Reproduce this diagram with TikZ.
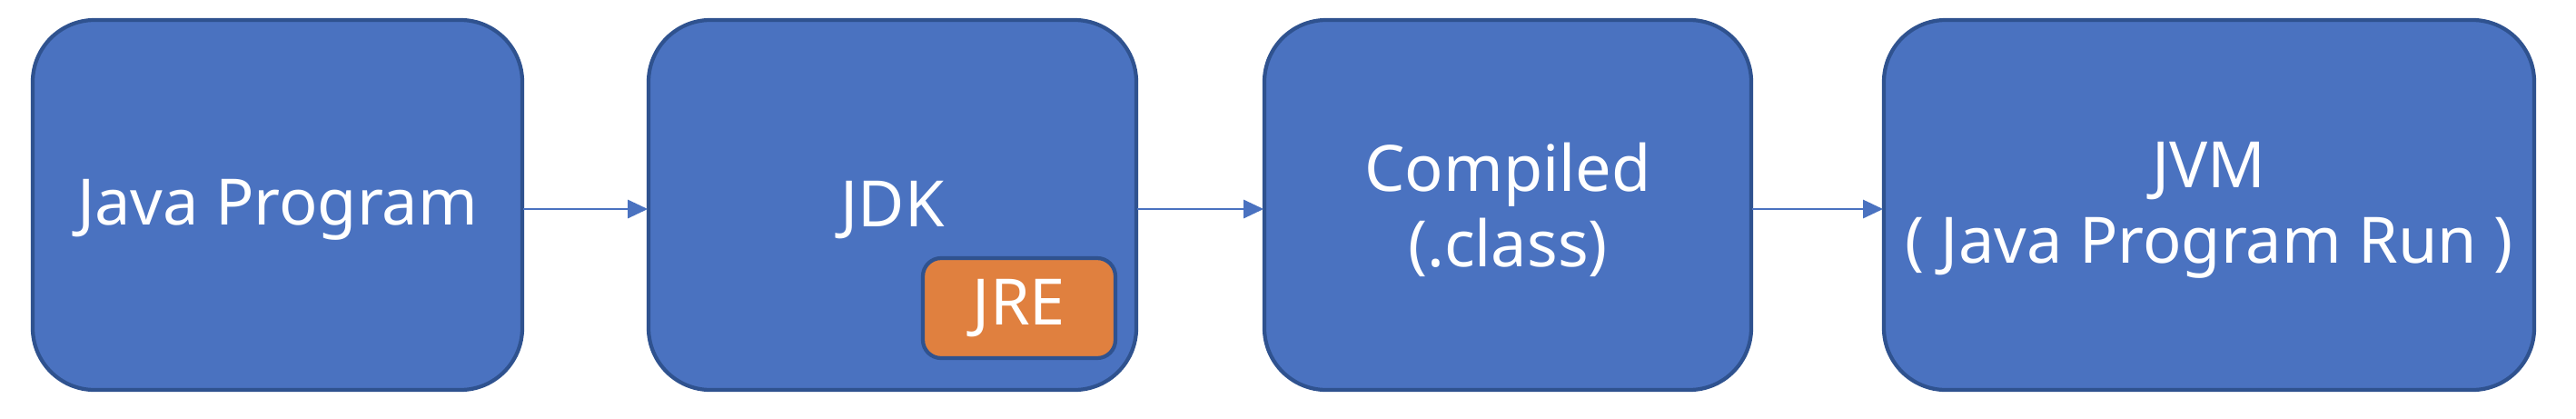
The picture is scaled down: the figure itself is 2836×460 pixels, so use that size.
\documentclass[tikz,border=0pt]{standalone}
\usepackage{fontspec}
\setmainfont{Noto Sans}
\usetikzlibrary{arrows.meta}
\definecolor{boxblue}{HTML}{4A72C0}
\definecolor{boxedge}{HTML}{2F528F}
\definecolor{jreorange}{HTML}{E0803F}
\begin{document}
\begin{tikzpicture}[x=0.01cm,y=-0.01cm,
  bigbox/.style={draw=boxedge,line width=1.2pt,fill=boxblue,rounded corners=0.68cm},
  smallbox/.style={draw=boxedge,line width=1.2pt,fill=jreorange,rounded corners=0.2cm},
  lbl/.style={text=white,font=\fontsize{20}{23.5}\selectfont,align=center,inner sep=0pt},
  conn/.style={draw=boxblue,line width=0.8pt,-{Triangle[length=0.22cm,width=0.2cm]}}]
\useasboundingbox (0,0) rectangle (2836,460);
\path[bigbox] (36,22) rectangle (575,429);
\path[bigbox] (714,22) rectangle (1251,429);
\path[bigbox] (1392,22) rectangle (1928,429);
\path[bigbox] (2074,22) rectangle (2790,429);
\path[smallbox] (1016,284) rectangle (1228,394);
\node[inner sep=0pt,minimum width=5.39cm,minimum height=4.07cm] (jp) at (305.5,225.5) {};
\node[inner sep=0pt,minimum width=5.37cm,minimum height=4.07cm] (jdk) at (982.5,225.5) {};
\node[inner sep=0pt,minimum width=5.36cm,minimum height=4.07cm] (cmp) at (1660,225.5) {};
\node[inner sep=0pt,minimum width=7.16cm,minimum height=4.07cm] (jvm) at (2432,225.5) {};
\node[lbl] (jpt) at (305.5,231) {Java Program};
\node[lbl] (jdkt) at (982.5,231) {JDK};
\node[lbl] (cmpt) at (1660,231) {Compiled\\(.class)};
\node[lbl] (jvmt) at (2432,231) {JVM\\( Java Program Run )};
\node[lbl] (jre) at (1122,339) {JRE};
\draw[conn] (jp.east |- 0,230) -- (jdk.west |- 0,230);
\draw[conn] (jdk.east |- 0,230) -- (cmp.west |- 0,230);
\draw[conn] (cmp.east |- 0,230) -- (jvm.west |- 0,230);
\end{tikzpicture}
\end{document}
